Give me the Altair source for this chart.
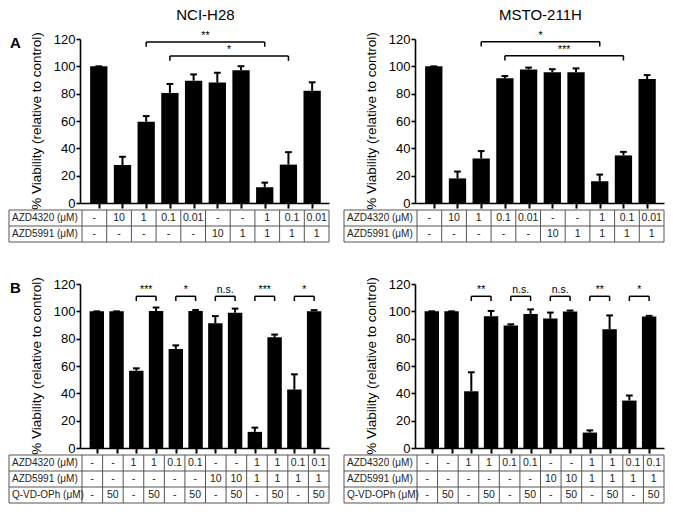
import altair as alt
import pandas as pd

FONT = "Liberation Sans"

# ---------------- data ----------------
cell_lines = ["NCI-H28", "MSTO-211H"]
panel_letters = ["A", "B"]
y_title = "% Viability (relative to control)"

# Panel A: means and SEM (upper error only)
a_h28_mean = [100, 27.8, 59.5, 80.4, 89.5, 88.1, 97.2, 11.5, 28.1, 82.1]
a_h28_err = [0, 6.0, 4.1, 6.7, 4.6, 7.2, 2.9, 3.4, 9.1, 6.2]
a_msto_mean = [100, 18.0, 32.6, 91.2, 97.7, 95.6, 95.7, 15.9, 34.8, 90.7]
a_msto_err = [0, 5.0, 5.4, 1.7, 1.4, 2.3, 2.8, 4.9, 2.6, 2.9]

# Panel B
b_h28_mean = [100, 100, 56.5, 100.2, 72.5, 100.3, 91.3, 99.0, 11.8, 81.0, 42.8, 100.0]
b_h28_err = [0, 0, 1.8, 2.6, 2.6, 0.7, 5.2, 3.0, 3.1, 2.0, 11.1, 0.9]
b_msto_mean = [100, 100, 41.5, 96.4, 89.6, 98.1, 94.7, 99.8, 11.3, 86.9, 34.7, 96.2]
b_msto_err = [0, 0, 13.9, 3.9, 0.9, 3.3, 4.4, 0.8, 1.6, 10.1, 3.7, 0.5]

# significance brackets: (from bar, to bar, level, label)
a_h28_sig = [(2, 7, 117.8, "**"), (3, 8, 107.5, "*")]
a_msto_sig = [(2, 7, 118.0, "*"), (3, 8, 107.8, "***")]
b_h28_sig = [(2, 3, 111, "***"), (4, 5, 111, "*"), (6, 7, 111, "n.s."),
             (8, 9, 111, "***"), (10, 11, 111, "*")]
b_msto_sig = [(2, 3, 111, "**"), (4, 5, 111, "n.s."), (6, 7, 111, "n.s."),
              (8, 9, 111, "**"), (10, 11, 111, "*")]

# treatment tables
row_names_a = ["AZD4320 (μM)", "AZD5991 (μM)"]
a_azd4320 = ["-", "10", "1", "0.1", "0.01", "-", "-", "1", "0.1", "0.01"]
a_azd5991 = ["-", "-", "-", "-", "-", "10", "1", "1", "1", "1"]

row_names_b = ["AZD4320 (μM)", "AZD5991 (μM)", "Q-VD-OPh (μM)"]
b_azd4320 = ["-", "-", "1", "1", "0.1", "0.1", "-", "-", "1", "1", "0.1", "0.1"]
b_azd5991 = ["-", "-", "-", "-", "-", "-", "10", "10", "1", "1", "1", "1"]
b_qvd = ["-", "50", "-", "50", "-", "50", "-", "50", "-", "50", "-", "50"]

y_ticks = [0, 20, 40, 60, 80, 100, 120]

# ---------------- layout ----------------
LC = 73        # label column width (px)
CW = 247       # value columns width (px)
PLOT_H = 164   # 0..120 height (px)
ROW_H = 16
GAP_TABLE = 7
GAP_COL = 15
HEAD_B = 35    # extra room above panel B plots


def bar_panel(means, errs, sig, title=None, letter=None, head=0):
    n = len(means)
    c = CW / n
    xs = alt.Scale(domain=[-0.5 - 2 / c, n - 0.5], range=[LC - 2, LC + CW],
                   nice=False, zero=False)
    ys = alt.Scale(domain=[0, 120], range=[PLOT_H + head, head],
                   nice=False, zero=False)
    xaxis = alt.Axis(values=list(range(n)), labels=False, title=None, grid=False,
                     tickSize=5, tickWidth=2, tickColor="black",
                     domainColor="black", domainWidth=1.6, zindex=1)
    yaxis = alt.Axis(values=y_ticks, title=None,
                     offset=-(LC - 2), grid=False, tickSize=4, tickWidth=1.6,
                     tickColor="black", domainColor="black", domainWidth=1.6,
                     labelFont=FONT, labelFontSize=13, labelColor="black",
                     labelPadding=1, labelOverlap=False, zindex=1)

    def X(field=None, datum=None):
        if datum is not None:
            return alt.X(datum=datum, scale=xs, axis=xaxis)
        return alt.X(field, type="quantitative", scale=xs, axis=xaxis)

    def Y(field=None, datum=None):
        if datum is not None:
            return alt.Y(datum=datum, scale=ys, axis=yaxis)
        return alt.Y(field, type="quantitative", scale=ys, axis=yaxis)

    df = pd.DataFrame({"idx": list(range(n)), "mean": means, "err": errs})
    base = alt.Chart(df)
    bars = base.mark_bar(orient="vertical", size=0.7 * c, color="black").encode(
        x=X("idx"), y=Y("mean"))
    stems = base.transform_calculate(top="datum.mean + datum.err").mark_rule(
        color="black", strokeWidth=2).encode(
        x=X("idx"), y=Y("mean"), y2="top:Q")
    half = 3.5 / c
    caps = base.transform_calculate(
        top="datum.mean + datum.err",
        lo=f"datum.idx - {half}",
        hi=f"datum.idx + {half}",
    ).mark_rule(color="black", strokeWidth=2).encode(
        x=X("lo"), x2="hi:Q", y=Y("top"))
    sdf = pd.DataFrame(sig, columns=["x1", "x2", "y", "label"])
    sb = alt.Chart(sdf)
    hline = sb.mark_rule(color="black", strokeWidth=1.5).encode(
        x=X("x1"), x2="x2:Q", y=Y("y"))
    ends = sb.transform_fold(["x1", "x2"], as_=["end", "xe"]).transform_calculate(
        ylo="datum.y - 3.5").mark_rule(color="black", strokeWidth=1.5).encode(
        x=X("xe"), y=Y("y"), y2="ylo:Q")
    stars = sb.transform_calculate(xm="(datum.x1 + datum.x2) / 2").mark_text(
        font=FONT, fontSize=10.5, baseline="bottom", dy=-1, color="black").encode(
        x=X("xm"), y=Y("y"), text="label:N")
    ytitle = alt.Chart(pd.DataFrame({"t": [y_title]})).mark_text(
        font=FONT, fontSize=13.5, angle=270, align="center", baseline="middle",
        color="black").encode(
        x=alt.value(LC - 2 - 43), y=Y(datum=60), text="t:N")
    layers = [bars, stems, caps, hline, ends, stars, ytitle]
    if title:
        t = alt.Chart(pd.DataFrame({"t": [title]})).mark_text(
            font=FONT, fontSize=15, baseline="middle", dy=-24, color="black").encode(
            x=X(datum=(n - 1) / 2), y=Y(datum=120), text="t:N")
        layers.append(t)
    if letter:
        lt = alt.Chart(pd.DataFrame({"l": [letter]})).mark_text(
            font=FONT, fontSize=15, fontWeight="bold", align="left",
            baseline="middle", dy=4, color="black").encode(
            x=alt.value(1), y=Y(datum=120), text="l:N")
        layers.append(lt)
    return alt.layer(*layers).properties(width=LC + CW, height=PLOT_H + head)


def table_panel(row_names, row_vals):
    n = len(row_vals[0])
    nr = len(row_names)
    c = CW / n
    xmin = -0.5 - LC / c
    xs = alt.Scale(domain=[xmin, n - 0.5], nice=False, zero=False)
    ys = alt.Scale(domain=[0, nr], nice=False, zero=False, reverse=True)
    cell_df = pd.DataFrame([{"r": r, "i": i, "v": v}
                            for r, vals in enumerate(row_vals)
                            for i, v in enumerate(vals)])
    name_df = pd.DataFrame({"r": list(range(nr)), "name": row_names})
    h_df = pd.DataFrame({"r": list(range(nr + 1))})
    v_df = pd.DataFrame({"xb": [xmin] + [i - 0.5 for i in range(n + 1)]})
    hlines = alt.Chart(h_df).mark_rule(color="#555", strokeWidth=1).encode(
        y=alt.Y("r:Q", scale=ys, axis=None),
        x=alt.X(datum=xmin, scale=xs, axis=None),
        x2=alt.datum(n - 0.5))
    vlines = alt.Chart(v_df).mark_rule(color="#555", strokeWidth=1).encode(
        x=alt.X("xb:Q", scale=xs, axis=None),
        y=alt.Y(datum=0, scale=ys, axis=None),
        y2=alt.datum(nr))
    names = alt.Chart(name_df).transform_calculate(
        rc="datum.r + 0.5", xl=str(xmin)).mark_text(
        font=FONT, fontSize=10, align="left", dx=3, color="#222").encode(
        x=alt.X("xl:Q", scale=xs, axis=None),
        y=alt.Y("rc:Q", scale=ys, axis=None),
        text="name:N")
    vals = alt.Chart(cell_df).transform_calculate(rc="datum.r + 0.5").mark_text(
        font=FONT, fontSize=10.5, color="#222").encode(
        x=alt.X("i:Q", scale=xs, axis=None),
        y=alt.Y("rc:Q", scale=ys, axis=None),
        text="v:N")
    return alt.layer(hlines, vlines, names, vals).properties(
        width=LC + CW, height=ROW_H * nr)


cells = [
    bar_panel(a_h28_mean, a_h28_err, a_h28_sig, cell_lines[0], panel_letters[0]),
    bar_panel(a_msto_mean, a_msto_err, a_msto_sig, cell_lines[1], None),
    table_panel(row_names_a, [a_azd4320, a_azd5991]),
    table_panel(row_names_a, [a_azd4320, a_azd5991]),
    bar_panel(b_h28_mean, b_h28_err, b_h28_sig, None, panel_letters[1], HEAD_B),
    bar_panel(b_msto_mean, b_msto_err, b_msto_sig, None, None, HEAD_B),
    table_panel(row_names_b, [b_azd4320, b_azd5991, b_qvd]),
    table_panel(row_names_b, [b_azd4320, b_azd5991, b_qvd]),
]

chart = alt.concat(
    *cells, columns=2, bounds="flush",
    spacing=alt.RowColnumber(row=GAP_TABLE, column=GAP_COL),
).properties(padding=0, background="white").configure_view(stroke=None)

chart.save("out.html", embed_options={"renderer": "svg", "actions": False})
